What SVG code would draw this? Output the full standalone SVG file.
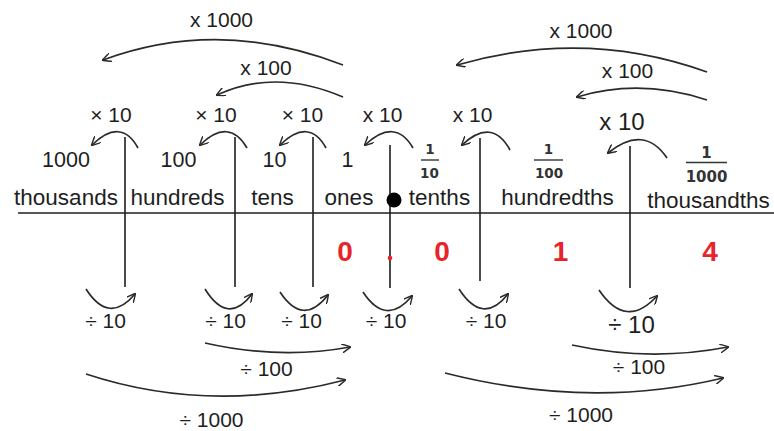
<svg xmlns="http://www.w3.org/2000/svg" width="774" height="431" viewBox="0 0 774 431">
<defs>
<marker id="ah" viewBox="0 0 10 10" refX="9" refY="5" markerWidth="9" markerHeight="9" markerUnits="userSpaceOnUse" orient="auto">
<path d="M0,0 L10,5 L0,10" fill="none" stroke="#2a2a2a" stroke-width="1.6"/>
</marker>
<style>
text{font-family:"Liberation Sans",Arial,sans-serif;fill:#1e1e1e;text-anchor:middle}
.lab{font-size:22.5px}
.num{font-size:21.5px}
.op{font-size:21px}
.big{font-size:24px}
.frac{font-family:"DejaVu Sans",sans-serif;font-size:13.5px;font-weight:bold;fill:#333}
.red{font-size:28px;font-weight:bold;fill:#e8232a}
.ln{stroke:#1e1e1e;stroke-width:1.6;fill:none}
.arr{stroke:#2a2a2a;stroke-width:1.7;fill:none;marker-end:url(#ah)}
</style>
</defs>
<rect width="774" height="431" fill="#ffffff"/>

<g id="axis">
<line class="ln" x1="18" y1="213" x2="774" y2="213"/>
<line class="ln" x1="125" y1="137" x2="125" y2="287"/>
<line class="ln" x1="235" y1="137" x2="235" y2="287"/>
<line class="ln" x1="313" y1="137" x2="313" y2="287"/>
<line class="ln" x1="390" y1="145" x2="390" y2="288"/>
<line class="ln" x1="480" y1="138" x2="480" y2="281"/>
<line class="ln" x1="630" y1="146" x2="630" y2="288" stroke-width="2.4"/>
<circle cx="394" cy="200" r="7.5" fill="#000"/>
</g>

<g id="thousands">
<text class="num" x="66" y="167">1000</text>
<text class="lab" x="66" y="205">thousands</text>
</g>
<g id="hundreds">
<text class="num" x="178.5" y="167">100</text>
<text class="lab" x="177.5" y="205">hundreds</text>
</g>
<g id="tens">
<text class="num" x="274.5" y="167">10</text>
<text class="lab" x="272.5" y="205">tens</text>
</g>
<g id="ones">
<text class="num" x="347.5" y="167">1</text>
<text class="lab" x="349" y="205">ones</text>
<text class="red" x="345" y="261">0</text>
<circle cx="390" cy="258" r="2.3" fill="#e8232a"/>
</g>
<g id="tenths">
<text class="frac" x="430" y="154">1</text>
<line x1="421" y1="160" x2="439" y2="160" stroke="#333" stroke-width="1.4"/>
<text class="frac" x="429.5" y="177.5">10</text>
<text class="lab" x="439.5" y="205">tenths</text>
<text class="red" x="442" y="261">0</text>
</g>
<g id="hundredths">
<text class="frac" x="548.5" y="153.5">1</text>
<line x1="534" y1="160" x2="563" y2="160" stroke="#333" stroke-width="1.4"/>
<text class="frac" x="549" y="177.5">100</text>
<text class="lab" x="557.5" y="205">hundredths</text>
<text class="red" x="560.5" y="261">1</text>
</g>
<g id="thousandths">
<text class="frac" x="706.5" y="157.5" style="font-size:15px">1</text>
<line x1="686" y1="162.5" x2="727" y2="162.5" stroke="#333" stroke-width="1.5"/>
<text class="frac" x="706.5" y="181.5" style="font-size:15px">1000</text>
<text class="lab" x="708.5" y="208">thousandths</text>
<text class="red" x="710" y="261">4</text>
</g>

<g id="labels">
<text class="op" x="221.5" y="27">x 1000</text>
<text class="op" x="266" y="75">x 100</text>
<text class="op" x="581" y="38">x 1000</text>
<text class="op" x="627.5" y="78">x 100</text>
<text class="op" x="111" y="122">× 10</text>
<text class="op" x="216" y="122">× 10</text>
<text class="op" x="302.5" y="122">× 10</text>
<text class="op" x="382.5" y="122">x 10</text>
<text class="op" x="472.5" y="122">x 10</text>
<text class="big" x="622" y="130">x 10</text>
<text class="op" x="105.5" y="328">÷ 10</text>
<text class="op" x="225.5" y="328">÷ 10</text>
<text class="op" x="301.5" y="328">÷ 10</text>
<text class="op" x="386" y="328">÷ 10</text>
<text class="op" x="486" y="328">÷ 10</text>
<text class="big" x="631.5" y="333">÷ 10</text>
<text class="op" x="266.5" y="376">÷ 100</text>
<text class="op" x="639" y="374">÷ 100</text>
<text class="op" x="211.5" y="427">÷ 1000</text>
<text class="op" x="581" y="422">÷ 1000</text>
</g>

<g id="connectors">
<path class="arr" d="M343,65 Q220,17 103,60"/>
<path class="arr" d="M343,97 Q275,68 217,95"/>
<path class="arr" d="M707,72 Q585,28 457,65"/>
<path class="arr" d="M707,100 Q640,78 577,97"/>
<path class="arr" d="M138,148 Q121,117 92,145"/>
<path class="arr" d="M247,148 Q229,117 200,145"/>
<path class="arr" d="M326,148 Q309,117 280,145"/>
<path class="arr" d="M413,148 Q395,117 365,145"/>
<path class="arr" d="M510,150 Q492,117 462,145"/>
<path class="arr" d="M667,158 Q644,124 608,153"/>
<path class="arr" d="M86,289 Q109,325 135,294"/>
<path class="arr" d="M205,289 Q228,326 252,294"/>
<path class="arr" d="M280,292 Q303,327 328,295"/>
<path class="arr" d="M363,292 Q386,327 412,296"/>
<path class="arr" d="M459,289 Q483,326 508,294"/>
<path class="arr" d="M599,290 Q626,330 657,296"/>
<path class="arr" d="M205,343 Q280,360 350,347"/>
<path class="arr" d="M86,374 Q210,415 345,380"/>
<path class="arr" d="M572,345 Q650,362 728,347"/>
<path class="arr" d="M445,373 Q590,410 723,378"/>
</g>
</svg>
